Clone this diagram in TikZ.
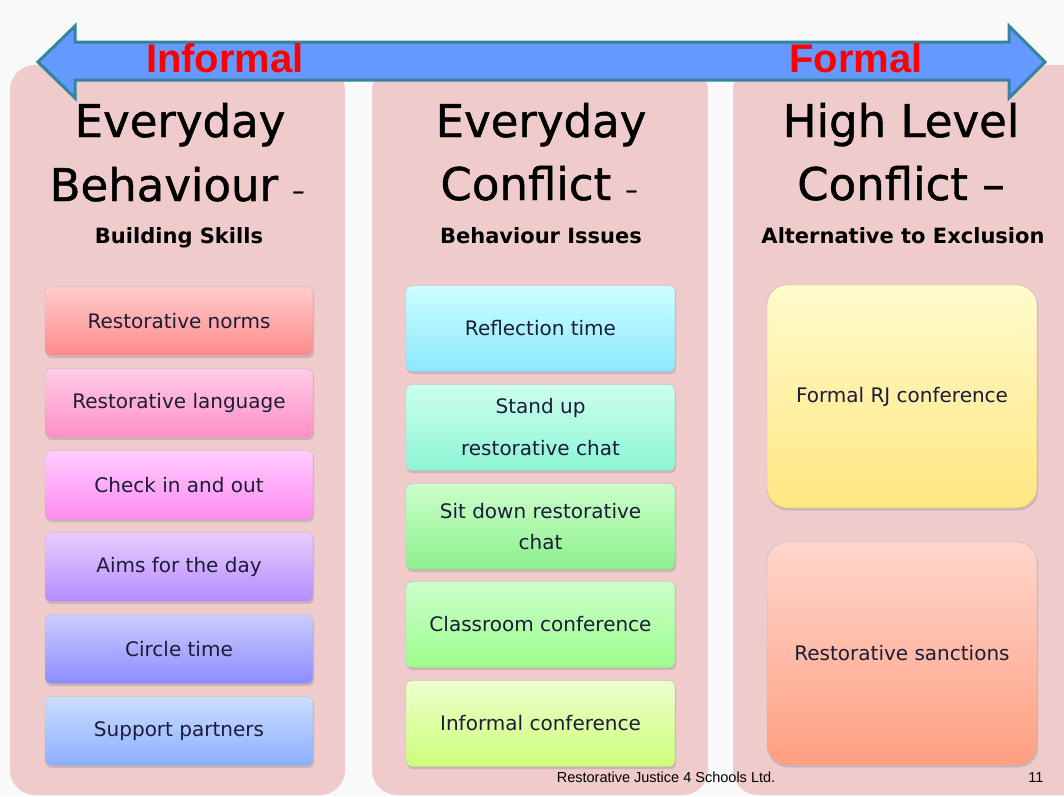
\documentclass[tikz,border=0pt]{standalone}
\usepackage{fontspec}
\setmainfont{DejaVu Sans}
\newfontfamily\labelfont{Liberation Sans}
\newfontfamily\headfont{DejaVu Sans}[FakeBold=1]
\usetikzlibrary{shadows}

\definecolor{backdrop}{HTML}{F9F9F9}
\definecolor{panelpink}{HTML}{EFCBCB}
\definecolor{arrowfill}{HTML}{6699FF}
\definecolor{arrowline}{HTML}{31859C}
\definecolor{itemtext}{HTML}{1C1C38}

% item colours, top and bottom
\definecolor{normsA}{HTML}{FFCCCC}    \definecolor{normsB}{HTML}{FF8A8A}
\definecolor{langA}{HTML}{FFCCE6}     \definecolor{langB}{HTML}{FF8FC6}
\definecolor{checkA}{HTML}{FFCCFF}    \definecolor{checkB}{HTML}{FF8CF0}
\definecolor{aimsA}{HTML}{E8CCFF}     \definecolor{aimsB}{HTML}{B58CFF}
\definecolor{circleA}{HTML}{CCCCFF}   \definecolor{circleB}{HTML}{8C8CFF}
\definecolor{partA}{HTML}{CCDDFF}     \definecolor{partB}{HTML}{8CAEFF}
\definecolor{reflA}{HTML}{CCFFFF}     \definecolor{reflB}{HTML}{8CE8FF}
\definecolor{standA}{HTML}{CCFFEE}    \definecolor{standB}{HTML}{8CF5D5}
\definecolor{sitA}{HTML}{CCFFCC}      \definecolor{sitB}{HTML}{8CF08C}
\definecolor{classA}{HTML}{CCFFCC}    \definecolor{classB}{HTML}{9CFF8C}
\definecolor{infA}{HTML}{EEFFCC}      \definecolor{infB}{HTML}{CCFF7A}
\definecolor{rjA}{HTML}{FFFBCC}       \definecolor{rjB}{HTML}{FFE680}
\definecolor{sancA}{HTML}{FFD6CC}     \definecolor{sancB}{HTML}{FF9F80}

\tikzset{
  panel/.style={fill=panelpink, rounded corners=25pt},
  item/.style={draw=black!28, rounded corners=6pt, minimum width=268pt, minimum height=69pt,
    align=center, text=itemtext, font=\fontsize{20}{24}\selectfont,
    drop shadow={opacity=0.3, shadow xshift=1pt, shadow yshift=-2.5pt}},
  wideitem/.style={item, minimum width=269pt, minimum height=86pt},
  bigitem/.style={item, rounded corners=20pt, minimum width=270pt, minimum height=223pt},
  heading/.style={anchor=base, font=\headfont\fontsize{45}{54}\selectfont},
  subheading/.style={anchor=base, font=\bfseries\fontsize{21}{25}\selectfont},
  endlabel/.style={anchor=base, text=red, font=\labelfont\bfseries\fontsize{40}{48}\selectfont},
  footer/.style={anchor=base, font=\labelfont\fontsize{14.5}{17}\selectfont}
}

\begin{document}
\begin{tikzpicture}[x=1pt, y=-1pt]
        \useasboundingbox (0,0) rectangle (1064,796);
        \clip (0,0) rectangle (1064,796);
        \fill[backdrop] (0,0) rectangle (1064,796);

        % three columns
        \fill[panel] (10,65) rectangle (345,795);
        \fill[panel] (372,65) rectangle (708,795);
        \fill[panel] (733,65) rectangle (1090,795);

        % informal -- formal arrow
        \draw[fill=arrowfill, draw=arrowline, line width=3pt, line join=miter]
        (38,62) -- (75,26) -- (75,42) -- (1009,42) -- (1009,26) -- (1045,62)
        -- (1009,98) -- (1009,80) -- (75,80) -- (75,98) -- cycle;
        \node[endlabel] (informal) at (225,72) {Informal};
        \node[endlabel] (formal) at (856,72) {Formal};

        % headings
        \node[heading] (everydayA) at (180,137) {Everyday};
        \node[heading] (behaviour) at (177,201) {Behaviour {\fontsize{24}{24}\selectfont\raisebox{2pt}{–}}};
        \node[subheading] (skills) at (179,243) {Building Skills};

        \node[heading] (everydayB) at (541,137) {Everyday};
        \node[heading] (conflictB) at (539,200) {Conflict {\fontsize{24}{24}\selectfont\raisebox{2pt}{–}}};
        \node[subheading] (issues) at (541,243) {Behaviour Issues};

        \node[heading] (highlevel) at (901,137) {High Level};
        \node[heading] (conflictC) at (901,200) {Conflict –};
        \node[subheading] (exclusion) at (903,243) {Alternative to Exclusion};

        % everyday behaviour
        \node[item, top color=normsA, bottom color=normsB] (norms) at (179,321) {Restorative norms};
        \node[item, top color=langA, bottom color=langB] (language) at (179,403) {Restorative language};
        \node[item, top color=checkA, bottom color=checkB] (checkin) at (179,485) {Check in and out};
        \node[item, top color=aimsA, bottom color=aimsB] (aims) at (179,567) {Aims for the day};
        \node[item, top color=circleA, bottom color=circleB] (circle) at (179,649) {Circle time};
        \node[item, top color=partA, bottom color=partB] (partners) at (179,731) {Support partners};

        % everyday conflict
        \node[wideitem, top color=reflA, bottom color=reflB] (reflection) at (540.5,328.5) {Reflection time};
        \node[wideitem, top color=standA, bottom color=standB] (standup) at (540.5,427.5) {Stand up\\[18pt]restorative chat};
        \node[wideitem, top color=sitA, bottom color=sitB] (sitdown) at (540.5,526.5) {Sit down restorative\\[7pt]chat};
        \node[wideitem, top color=classA, bottom color=classB] (classroom) at (540.5,624.5) {Classroom conference};
        \node[wideitem, top color=infA, bottom color=infB] (informalconf) at (540.5,723.5) {Informal conference};

        % high level conflict
        \node[bigitem, top color=rjA, bottom color=rjB] (formalrj) at (902,396.5) {Formal RJ conference};
        \node[bigitem, top color=sancA, bottom color=sancB] (sanctions) at (902,653.5) {Restorative sanctions};

        \node[footer] (company) at (666,782) {Restorative Justice 4 Schools Ltd.};
        \node[footer] (pagenum) at (1036,782) {11};
    \end{tikzpicture}
\end{document}
